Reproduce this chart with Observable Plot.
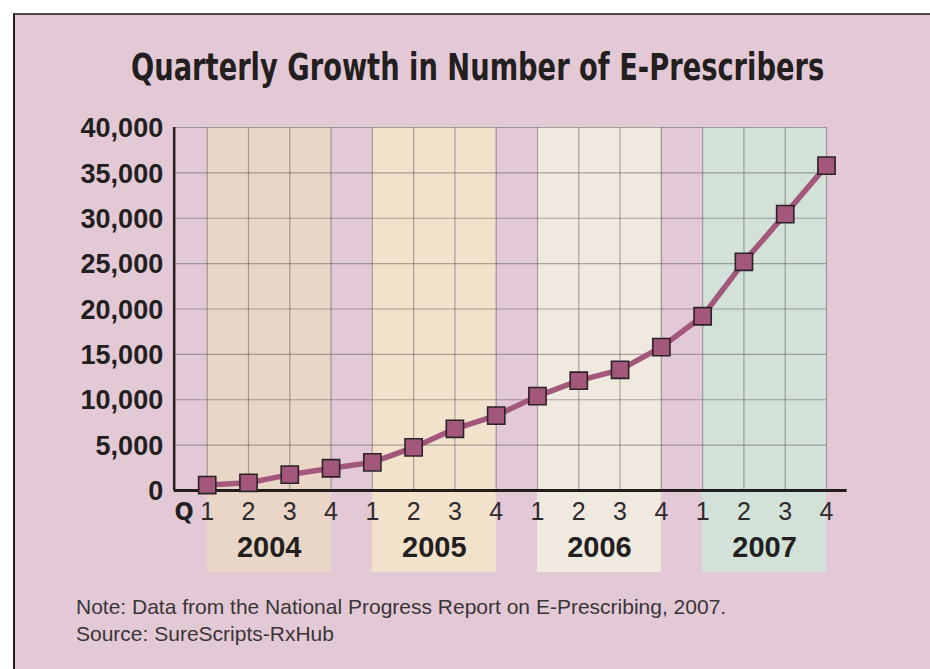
<!DOCTYPE html>
<html>
<head>
<meta charset="utf-8">
<script src="https://cdn.jsdelivr.net/npm/d3@7"></script>
<script src="https://cdn.jsdelivr.net/npm/@observablehq/plot@0.6"></script>
<style>
  html, body { margin: 0; padding: 0; background: #ffffff; }
  body { position: relative; width: 930px; height: 669px; overflow: hidden; }
  #frame {
    position: absolute; left: 13px; top: 13px; width: 917px; height: 656px;
    box-sizing: border-box; background: #e3c9d6;
    border-top: 2px solid #4a4a4a; border-left: 2px solid #231f20;
  }
  #title {
    position: absolute; left: 17px; width: 915px; top: 46px; margin: 0;
    text-align: center; line-height: 44px; font-size: 37px; font-weight: bold;
    font-family: "Liberation Sans Narrow", "Arial Narrow", "DejaVu Sans Condensed", sans-serif;
    color: #231f20; transform: scaleX(0.82); transform-origin: 475px 50%;
  }
  #chart { position: absolute; left: 15px; top: 100px; }
  #note {
    position: absolute; left: 76px; top: 593px; margin: 0;
    font-family: "Liberation Sans", Arial, sans-serif; font-size: 21px; line-height: 27px;
    color: #3a3536;
  }
</style>
</head>
<body>
<div id="frame"></div>
<h1 id="title">Quarterly Growth in Number of E-Prescribers</h1>
<div id="chart"></div>
<div id="note">Note: Data from the National Progress Report on E-Prescribing, 2007.<br>Source: SureScripts-RxHub</div>
<script>
// Number of e-prescribers at the end of each quarter, Q1 2004 – Q4 2007
const years = [2004, 2005, 2006, 2007];
const quarters = [1, 2, 3, 4];
const prescribers = [600, 850, 1750, 2450, 3100, 4750, 6800, 8250,
                     10400, 12100, 13300, 15800, 19200, 25200, 30450, 35800];
const yTicks = [0, 5000, 10000, 15000, 20000, 25000, 30000, 35000, 40000];
const yearFills = ["#ead6c6", "#f2e2cc", "#f0e9e0", "#d3e2d8"];

// one row per quarter, indexed 0..15 along the x axis
const rows = prescribers.map((v, i) => ({
  i, v, year: years[Math.floor(i / 4)], q: quarters[i % 4]
}));
const bands = years.map((year, k) => ({year, k, fill: yearFills[k]}));
const quarterIdx = rows.map(d => d.i);

const AX = -0.8;        // x position of the vertical axis, in quarter units
const lineColor = "#a3577b";
const ink = "#231f20";
const gridStroke = "#5e5a5c";
const narrow = "'Liberation Sans Narrow', 'Arial Narrow', 'DejaVu Sans Condensed', sans-serif";

const chart = Plot.plot({
  width: 915,
  height: 490,
  x: {domain: [0, 15], range: [191.7, 811], axis: null},
  y: {domain: [0, 40000], range: [390, 27], axis: null},
  color: {type: "identity"},
  style: {fontFamily: "'Liberation Sans', Arial, sans-serif", background: "transparent", color: ink, overflow: "visible"},
  marks: [
    // year bands, extended below the axis to hold the year labels
    Plot.rect(bands, {x1: d => d.k * 4, x2: d => d.k * 4 + 3, y1: 0, y2: 40000, fill: "fill", insetBottom: -82}),
    // grid
    Plot.ruleX(quarterIdx, {x: d => d, y1: 0, y2: 40000, stroke: gridStroke, strokeOpacity: 0.5, strokeWidth: 1.2}),
    Plot.ruleY(yTicks.filter(t => t > 0), {y: d => d, x1: AX, x2: 15, stroke: gridStroke, strokeOpacity: 0.5, strokeWidth: 1.2}),
    // axis lines
    Plot.ruleX([AX], {x: d => d, y1: 0, y2: 40000, stroke: ink, strokeWidth: 2.5}),
    Plot.ruleY([0], {y: d => d, x1: AX, x2: 15.5, stroke: ink, strokeWidth: 3}),
    // y tick labels
    Plot.text(yTicks, {x: AX, y: d => d, text: d => d3.format(",")(d), textAnchor: "end", dx: -11, dy: 1,
      fontSize: 27, fontWeight: "bold"}),
    // quarter labels
    Plot.text(rows, {x: "i", y: 0, text: d => String(d.q), dy: 21, fontSize: 25, fill: "#2f2b2c"}),
    Plot.text(["Q"], {x: AX, y: 0, text: d => d, dx: 10, dy: 21, fontSize: 25, fontWeight: "bold", fontFamily: narrow}),
    // year labels
    Plot.text(bands, {x: d => d.k * 4 + 1.5, y: 0, text: d => String(d.year), dy: 57, fontSize: 29, fontWeight: "bold"}),
    // series
    Plot.line(rows, {x: "i", y: "v", stroke: lineColor, strokeWidth: 5.5}),
    Plot.dot(rows, {x: "i", y: "v", symbol: "square", r: 9.7, fill: lineColor, stroke: "#2b2327", strokeWidth: 1.6})
  ]
});
document.getElementById("chart").append(chart);
</script>
</body>
</html>
